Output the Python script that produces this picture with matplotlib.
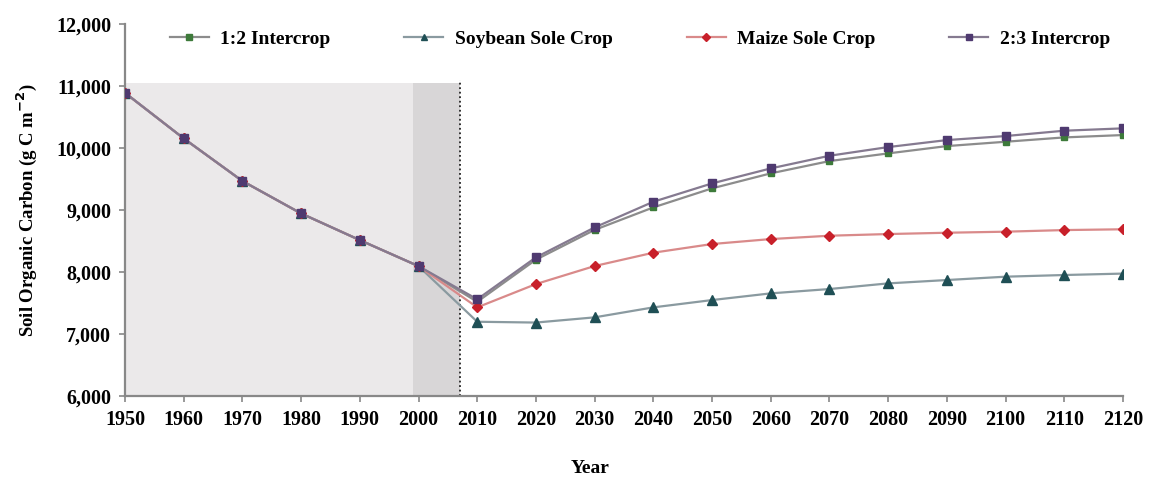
import matplotlib.pyplot as plt
from matplotlib.ticker import FuncFormatter

plt.rcParams["font.family"] = ["Liberation Serif", "DejaVu Serif"]
plt.rcParams["font.weight"] = "bold"

# soil organic carbon, g C m-2
years = [1950, 1960, 1970, 1980, 1990, 2000, 2010, 2020, 2030, 2040,
         2050, 2060, 2070, 2080, 2090, 2100, 2110, 2120]
intercrop_12 = [10890, 10155, 9468, 8945, 8515, 8095, 7520, 8200, 8680, 9043,
                9350, 9592, 9790, 9914, 10032, 10102, 10172, 10210]
soybean_sole = [10890, 10155, 9468, 8945, 8515, 8095, 7198, 7185, 7269, 7430,
                7548, 7656, 7726, 7817, 7871, 7925, 7952, 7975]
maize_sole = [10890, 10155, 9468, 8945, 8515, 8095, 7430, 7806, 8097, 8312,
              8452, 8532, 8586, 8613, 8634, 8651, 8677, 8690]
intercrop_23 = [10890, 10155, 9468, 8945, 8515, 8095, 7560, 8237, 8720, 9134,
                9430, 9672, 9876, 10016, 10129, 10194, 10280, 10318]

hindcast_end = 1999
spinup_end = 2007

fig = plt.figure(figsize=(11.62, 4.82), dpi=100)
ax = fig.add_axes([0.1076, 0.1784, 0.8588, 0.7716])

ax.fill_between([1950, hindcast_end], 6000, 11050, color="#ebe9ea", lw=0, zorder=0)
ax.fill_between([hindcast_end, spinup_end], 6000, 11050, color="#d8d6d7", lw=0, zorder=0)
ax.plot([spinup_end, spinup_end], [6000, 11100], color="#222222", ls=(0, (1, 1.5)),
        lw=1.3, zorder=1)

ax.plot(years, intercrop_12, color="#8c8c8c", lw=1.6, marker="s", ms=5,
        mfc="#3d7a3a", mec="#3d7a3a", label="1:2 Intercrop", zorder=3)
ax.plot(years, soybean_sole, color="#8a9aa0", lw=1.6, marker="^", ms=6.5,
        mfc="#1f4f55", mec="#1f4f55", label="Soybean Sole Crop", zorder=3)
ax.plot(years, maize_sole, color="#d98a8a", lw=1.6, marker="D", ms=5.5,
        mfc="#c8202a", mec="#c8202a", label="Maize Sole Crop", zorder=3)
ax.plot(years, intercrop_23, color="#857a90", lw=1.6, marker="s", ms=6,
        mfc="#4f3a70", mec="#4f3a70", label="2:3 Intercrop", zorder=4)

ax.set_xlim(1950, 2120)
ax.set_ylim(6000, 12000)
ax.set_xticks(range(1950, 2121, 10))
ax.set_yticks(range(6000, 12001, 1000))
ax.yaxis.set_major_formatter(FuncFormatter(lambda v, _: f"{int(v):,}"))
ax.tick_params(labelsize=14.5, color="#888888", width=1.2, length=4, pad=6)

for side in ("top", "right"):
    ax.spines[side].set_visible(False)
for side in ("left", "bottom"):
    ax.spines[side].set_color("#888888")
    ax.spines[side].set_linewidth(1.6)

ax.set_xlabel("Year", fontsize=14, fontweight="bold")
ax.xaxis.set_label_coords(0.466, -0.172)
ax.set_ylabel("Soil Organic Carbon (g C m$^{\\mathbf{-2}}$)", fontsize=13.5,
              fontweight="bold", labelpad=12)

ax.legend(loc="upper center", bbox_to_anchor=(0.516, 1.03), ncol=4, frameon=False,
          fontsize=14, handlelength=2.0, columnspacing=3.8, handletextpad=0.6,
          markerscale=0.75)

fig.savefig("out.png", dpi=100)
